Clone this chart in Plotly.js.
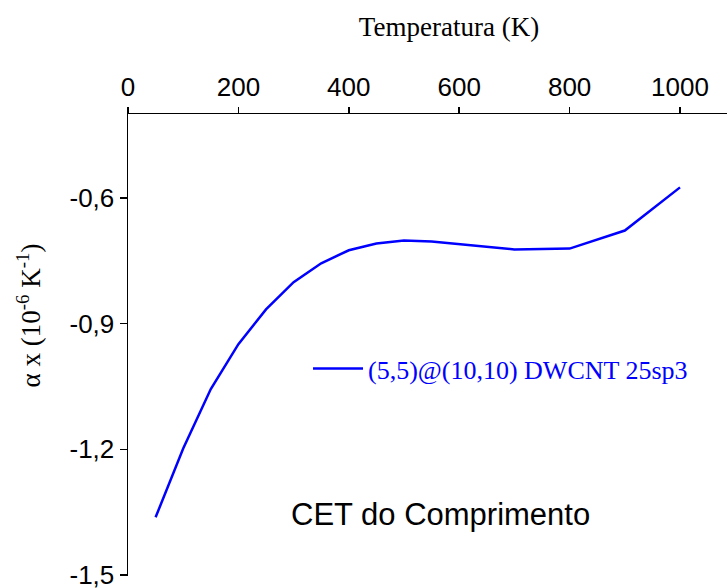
<!DOCTYPE html>
<html>
<head>
<meta charset="utf-8">
<script src="https://cdn.plot.ly/plotly-3.0.1.min.js"></script>
<style>
  html, body { margin: 0; padding: 0; overflow: hidden; background: #fff; }
  #chart { width: 770px; height: 588px; }
</style>
</head>
<body>
<div id="chart"></div>
<script>
// Temperature (K) and longitudinal thermal expansion coefficient (10^-6 K^-1)
const temperatures = [50, 100, 150, 200, 250, 300, 350, 400, 450, 500, 550, 700, 800, 900, 1000];
const alphaX = [-1.362, -1.198, -1.056, -0.949, -0.866, -0.801, -0.756, -0.725, -0.709, -0.702, -0.704, -0.723, -0.721, -0.678, -0.575];

const seriesName = '(5,5)@(10,10) DWCNT 25sp3';
const xTickVals = [0, 200, 400, 600, 800, 1000];
const xTickText = ['0', '200', '400', '600', '800', '1000'];
const yTickVals = [-1.5, -1.2, -0.9, -0.6];
const yTickText = ['-1,5', '-1,2', '-0,9', '-0,6'];

const sans = 'Liberation Sans, Arial, sans-serif';
const serif = 'Liberation Serif, Times New Roman, serif';

const trace = {
  x: temperatures,
  y: alphaX,
  type: 'scatter',
  mode: 'lines',
  name: seriesName,
  line: { color: '#0000FF', width: 2.5 }
};

const layout = {
  width: 770,
  height: 588,
  margin: { l: 128, r: 0, t: 114, b: 12 },
  paper_bgcolor: '#ffffff',
  plot_bgcolor: '#ffffff',
  showlegend: true,
  legend: {
    x: 0.2804, xanchor: 'left',
    y: 0.449, yanchor: 'middle',
    bgcolor: 'rgba(0,0,0,0)',
    borderwidth: 0,
    itemwidth: 50,
    font: { family: serif, size: 26, color: '#0000FF' }
  },
  xaxis: {
    side: 'top',
    range: [0, 1163],
    tickvals: xTickVals,
    ticktext: xTickText,
    ticks: 'outside',
    ticklen: 6,
    tickwidth: 1.5,
    tickcolor: '#000',
    showline: true,
    linecolor: '#000',
    linewidth: 1.5,
    showgrid: false,
    zeroline: false,
    ticklabeloverflow: 'allow',
    tickfont: { family: sans, size: 26, color: '#000' },
    title: {
      text: 'Temperatura (K)',
      font: { family: serif, size: 27, color: '#000' },
      standoff: 27
    }
  },
  yaxis: {
    range: [-1.502, -0.4],
    tickvals: yTickVals,
    ticktext: yTickText,
    ticks: 'outside',
    ticklen: 7,
    tickwidth: 1.5,
    tickcolor: '#000',
    showline: true,
    linecolor: '#000',
    linewidth: 1.5,
    showgrid: false,
    zeroline: false,
    ticklabeloverflow: 'allow',
    tickfont: { family: sans, size: 26, color: '#000' }
  },
  annotations: [
    {
      text: 'α x (10<sup>-6</sup> K<sup>-1</sup>)',
      xref: 'paper', yref: 'paper',
      x: -0.155, y: 0.565,
      xanchor: 'center', yanchor: 'middle',
      textangle: -90,
      showarrow: false,
      font: { family: serif, size: 27, color: '#000' }
    },
    {
      text: 'CET do Comprimento',
      xref: 'paper', yref: 'paper',
      x: 0.487, y: 0.133,
      xanchor: 'center', yanchor: 'middle',
      showarrow: false,
      font: { family: sans, size: 31, color: '#000' }
    }
  ]
};

Plotly.newPlot('chart', [trace], layout, { displayModeBar: false, staticPlot: true });
</script>
</body>
</html>
